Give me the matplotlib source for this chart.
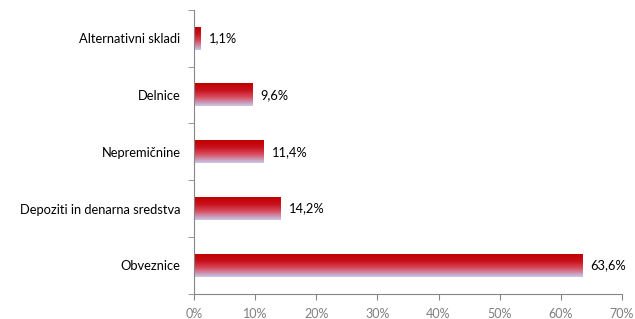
import numpy as np
import matplotlib.pyplot as plt
from matplotlib.colors import LinearSegmentedColormap

categories = ['Obveznice', 'Depoziti in denarna sredstva', 'Nepremičnine', 'Delnice', 'Alternativni skladi']
values = [63.6, 14.2, 11.4, 9.6, 1.1]
value_labels = ['63,6%', '14,2%', '11,4%', '9,6%', '1,1%']
xticks = [0, 10, 20, 30, 40, 50, 60, 70]

plt.rcParams['font.family'] = ['Lato', 'DejaVu Sans']

fig = plt.figure(figsize=(6.35, 3.19), dpi=100)
ax = fig.add_axes([0.306, 0.079, 0.673, 0.89])

# red at top fading to light lavender at bottom
cmap = LinearSegmentedColormap.from_list('grad', [(0, '#c8c8ec'), (0.4, '#d8485a'), (0.7, '#c8101c'), (1, '#c00000')])
grad = np.linspace(0, 1, 100).reshape(-1, 1)
h = 0.40
y = np.arange(len(categories))
bars = ax.barh(y, values, height=h, color='none')
for b in bars:
    x0, y0 = b.get_x(), b.get_y()
    ax.imshow(grad, cmap=cmap, aspect='auto', origin='lower',
              extent=[x0, x0 + b.get_width(), y0, y0 + b.get_height()], zorder=2)

for i, (v, lab) in enumerate(zip(values, value_labels)):
    ax.text(v + 1.3, i, lab, va='center', ha='left', fontsize=9.3, color='#000000')

ax.set_xlim(0, 70)
ax.set_ylim(-0.5, 4.5)
ax.set_xticks(xticks)
ax.set_xticklabels([f'{t}%' for t in xticks], color='#7f7f7f', fontsize=9)
ax.set_yticks(y)
ax.set_yticklabels(categories, fontsize=9.3, color='#000000')
ax.set_yticks(np.arange(-0.5, 4.6, 1), minor=True)
ax.tick_params(axis='y', which='major', length=0, pad=10)
ax.tick_params(axis='y', which='minor', length=4, color='#868686', direction='out')
ax.tick_params(axis='x', length=4, color='#868686', pad=6)

for s in ['top', 'right']:
    ax.spines[s].set_visible(False)
for s in ['left', 'bottom']:
    ax.spines[s].set_color('#868686')

fig.savefig('out.png', dpi=100)
